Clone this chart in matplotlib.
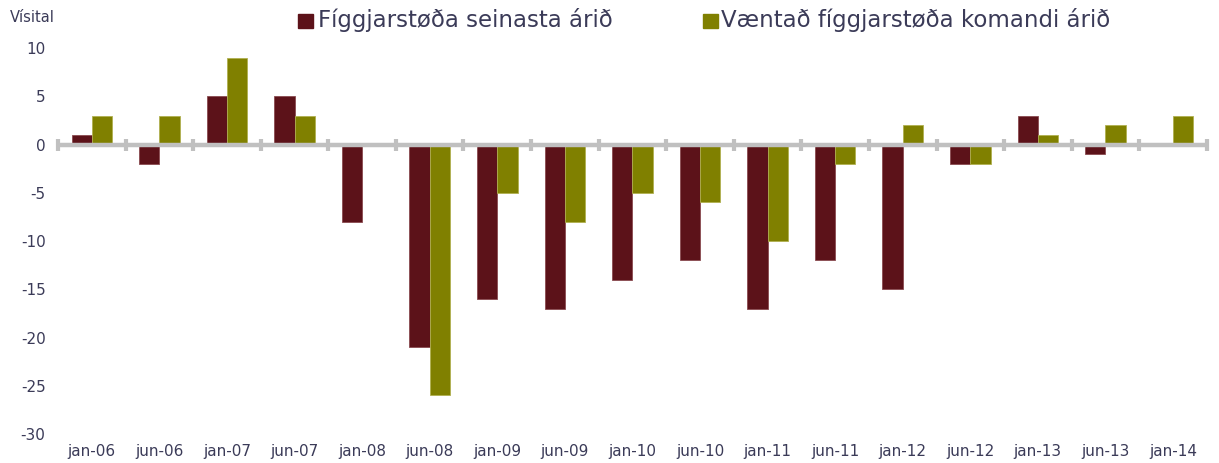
import matplotlib
matplotlib.use("Agg")
import matplotlib.pyplot as plt
import numpy as np
from matplotlib.patches import Rectangle

categories = ["jan-06", "jun-06", "jan-07", "jun-07", "jan-08", "jun-08", "jan-09", "jun-09",
              "jan-10", "jun-10", "jan-11", "jun-11", "jan-12", "jun-12", "jan-13", "jun-13", "jan-14"]
seinasta = [1, -2, 5, 5, -8, -21, -16, -17, -14, -12, -17, -12, -15, -2, 3, -1, np.nan]
komandi = [3, 3, 9, 3, np.nan, -26, -5, -8, -5, -6, -10, -2, 2, -2, 1, 2, 3]
label1 = "Fíggjarstøða seinasta árið"
label2 = "Væntað fíggjarstøða komandi árið"
yticks = [10, 5, 0, -5, -10, -15, -20, -25, -30]

red = "#5c1219"
olive = "#808000"
txt = "#3b3b58"
grey = "#c0c0c0"

fig = plt.figure(figsize=(12.19, 4.63), dpi=100)
ax = fig.add_axes([0.0476, 0.0626, 0.9424, 0.8337])

x = np.arange(len(categories))
w = 0.3
ax.bar(x - w / 2, seinasta, width=w, color=red, edgecolor="#8a4a50", linewidth=0.6, zorder=2)
ax.bar(x + w / 2, komandi, width=w, color=olive, edgecolor="#b0b050", linewidth=0.6, zorder=2)

ax.axhline(0, color=grey, linewidth=3.2, zorder=3)
bounds = np.arange(len(categories) + 1) - 0.5
ax.plot(bounds, np.zeros_like(bounds), linestyle="none", marker="|", markersize=9,
        markeredgewidth=3, color=grey, zorder=3, clip_on=False)

ax.set_xlim(-0.5, len(categories) - 0.5)
ax.set_ylim(-30, 10)
ax.set_yticks(yticks)
ax.set_yticklabels([str(v) for v in yticks])
ax.set_xticks(x)
ax.set_xticklabels(categories)
ax.tick_params(axis="both", length=0, labelsize=11, colors=txt)
ax.tick_params(axis="y", pad=9)
ax.tick_params(axis="x", pad=7)
for s in ax.spines.values():
    s.set_visible(False)

fig.text(0.008, 0.962, "Vísital", fontsize=10.5, color=txt, va="center", ha="left")

fig.patches.append(Rectangle((298 / 1219, 1 - 28 / 463), 15 / 1219, 14 / 463,
                             transform=fig.transFigure, color=red, figure=fig))
fig.text(318 / 1219, 1 - 20 / 463, label1, fontsize=16.5, color=txt, va="center", ha="left")
fig.patches.append(Rectangle((703 / 1219, 1 - 28 / 463), 15 / 1219, 14 / 463,
                             transform=fig.transFigure, color=olive, figure=fig))
fig.text(721 / 1219, 1 - 20 / 463, label2, fontsize=16.5, color=txt, va="center", ha="left")

fig.savefig("out.png", dpi=100)
